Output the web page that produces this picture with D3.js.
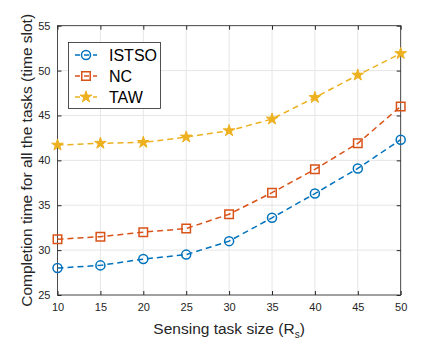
<!DOCTYPE html>
<html>
<head>
<meta charset="utf-8">
<script src="https://cdn.jsdelivr.net/npm/d3@7"></script>
<style>
  body { margin: 0; background: #fff; }
  text { font-family: "Liberation Sans", Arial, sans-serif; }
</style>
</head>
<body>
<div id="chart"></div>
<script>
const width = 443;
const height = 344;
const margin = {top: 25.7, right: 42.3, bottom: 49, left: 57.5};

// data
const taskSizes = [10, 15, 20, 25, 30, 35, 40, 45, 50];
const istso = [28.0, 28.3, 29.0, 29.5, 31.0, 33.6, 36.3, 39.1, 42.3];
const nc = [31.2, 31.5, 32.0, 32.4, 34.0, 36.4, 39.0, 41.9, 46.0];
const taw = [41.7, 41.9, 42.0, 42.6, 43.3, 44.6, 47.0, 49.5, 51.9];
const xTicks = [10, 15, 20, 25, 30, 35, 40, 45, 50];
const yTicks = [25, 30, 35, 40, 45, 50, 55];

const series = [
    {name: "ISTSO", values: istso, color: "#0072BD", marker: "circle"},
    {name: "NC", values: nc, color: "#D95319", marker: "square"},
    {name: "TAW", values: taw, color: "#EDB120", marker: "star"}
];

const svg = d3.select("#chart")
    .append("svg")
        .attr("width", width)
        .attr("height", height);

const x = d3.scaleLinear().domain([10, 50]).range([margin.left, width - margin.right]);
const y = d3.scaleLinear().domain([25, 55]).range([height - margin.bottom, margin.top]);

// grid
const grid = svg.append("g").attr("class", "grid");
grid.selectAll("line.gx")
    .data(xTicks)
    .enter().append("line")
        .attr("x1", d => x(d)).attr("x2", d => x(d))
        .attr("y1", y(25)).attr("y2", y(55))
        .attr("stroke", "#e6e6e6").attr("stroke-width", 1);
grid.selectAll("line.gy")
    .data(yTicks)
    .enter().append("line")
        .attr("x1", x(10)).attr("x2", x(50))
        .attr("y1", d => y(d)).attr("y2", d => y(d))
        .attr("stroke", "#e6e6e6").attr("stroke-width", 1);

// axes (ticks inward)
const axisColor = "#262626";
function styleAxis(g) {
    g.select(".domain").remove();
    g.selectAll(".tick line").attr("stroke", axisColor);
    g.selectAll(".tick text").attr("fill", "#262626").style("font-size", "11px");
}
svg.append("g")
    .attr("transform", `translate(0,${y(25)})`)
    .call(d3.axisBottom(x).tickValues(xTicks).tickSizeInner(-4).tickSizeOuter(0).tickPadding(8))
    .call(styleAxis);
svg.append("g")
    .attr("transform", `translate(0,${y(55)})`)
    .call(d3.axisTop(x).tickValues(xTicks).tickSizeInner(-4).tickSizeOuter(0).tickFormat(""))
    .call(styleAxis);
svg.append("g")
    .attr("transform", `translate(${x(10)},0)`)
    .call(d3.axisLeft(y).tickValues(yTicks).tickSizeInner(-4).tickSizeOuter(0).tickPadding(7))
    .call(styleAxis);
svg.append("g")
    .attr("transform", `translate(${x(50)},0)`)
    .call(d3.axisRight(y).tickValues(yTicks).tickSizeInner(-4).tickSizeOuter(0).tickFormat(""))
    .call(styleAxis);

// box
svg.append("rect")
    .attr("x", x(10)).attr("y", y(55))
    .attr("width", x(50) - x(10)).attr("height", y(25) - y(55))
    .attr("fill", "none").attr("stroke", axisColor).attr("stroke-width", 0.8);

// lines
const line = d3.line()
    .x((d, i) => x(taskSizes[i]))
    .y(d => y(d));

function markerPath(type) {
    if (type === "circle") return d3.symbol(d3.symbolCircle, 64)();
    if (type === "square") return d3.symbol(d3.symbolSquare, 72)();
    return d3.symbol(d3.symbolStar, 42)();
}

function drawMarker(g, s, cx, cy) {
    g.append("path")
        .attr("d", markerPath(s.marker))
        .attr("transform", `translate(${cx},${cy})`)
        .attr("fill", s.marker === "star" ? s.color : "none")
        .attr("stroke", s.color)
        .attr("stroke-width", s.marker === "star" ? 1 : 1.5);
}

series.forEach(s => {
    svg.append("path")
        .datum(s.values)
        .attr("d", line)
        .attr("fill", "none")
        .attr("stroke", s.color)
        .attr("stroke-width", 1.5)
        .attr("stroke-dasharray", "6,4");
    const g = svg.append("g");
    s.values.forEach((v, i) => drawMarker(g, s, x(taskSizes[i]), y(v)));
});

// legend
const legend = svg.append("g");
legend.append("rect")
    .attr("x", 68.5).attr("y", 42.5)
    .attr("width", 92).attr("height", 66)
    .attr("fill", "#fff").attr("stroke", axisColor).attr("stroke-width", 0.8);
series.forEach((s, i) => {
    const ly = 55 + i * 21;
    legend.append("line")
        .attr("x1", 75).attr("x2", 97)
        .attr("y1", ly).attr("y2", ly)
        .attr("stroke", s.color).attr("stroke-width", 1.5)
        .attr("stroke-dasharray", "5,4");
    drawMarker(legend, s, 86, ly);
    legend.append("text")
        .attr("x", 109).attr("y", ly)
        .attr("dy", "0.36em")
        .style("font-size", "16px")
        .attr("fill", "#000")
        .text(s.name);
});

// axis labels
svg.append("text")
    .attr("x", (x(10) + x(50)) / 2)
    .attr("y", 334)
    .attr("text-anchor", "middle")
    .style("font-size", "15.5px")
    .attr("fill", "#262626")
    .html('Sensing task size (R<tspan dy="4" font-size="10px">s</tspan><tspan dy="-4">)</tspan>');

svg.append("text")
    .attr("transform", `translate(32,${(y(25) + y(55)) / 2}) rotate(-90)`)
    .attr("text-anchor", "middle")
    .style("font-size", "15.5px")
    .attr("fill", "#262626")
    .text("Completion time for all the tasks (time slot)");
</script>
</body>
</html>
